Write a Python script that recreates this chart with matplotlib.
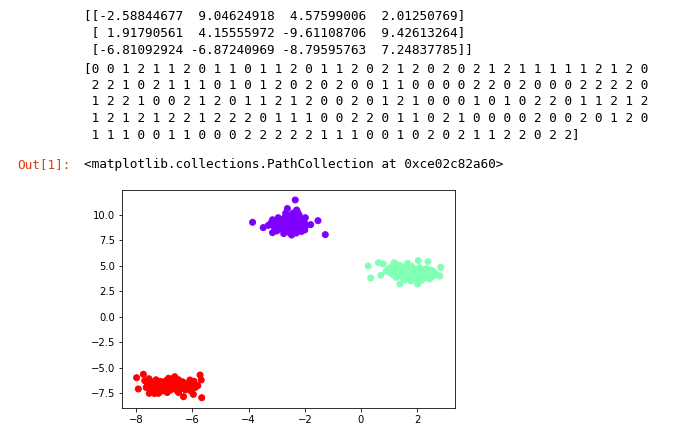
import matplotlib
matplotlib.use("Agg")
import matplotlib.pyplot as plt
import numpy as np

# ---- data ----
centers = [
    [-2.58844677, 9.04624918, 4.57599006, 2.01250769],
    [1.91790561, 4.15555972, -9.61108706, 9.42613264],
    [-6.81092924, -6.87240969, -8.79595763, 7.24837785],
]

labels = [
    0,0,1,2,1,1,2,0,1,1,0,1,1,2,0,1,1,2,0,2,1,2,0,2,0,2,1,2,1,1,1,1,1,2,1,2,0,
    2,2,1,0,2,1,1,1,0,1,0,1,2,0,2,0,2,0,0,1,1,0,0,0,0,2,2,0,2,0,0,0,2,2,2,2,0,
    1,2,2,1,0,0,2,1,2,0,1,1,2,1,2,0,0,2,0,1,2,1,0,0,0,1,0,1,0,2,2,0,1,1,2,1,2,
    1,2,1,2,1,2,2,1,2,2,2,0,1,1,1,0,0,2,2,0,1,1,0,2,1,0,0,0,0,2,0,0,2,0,1,2,0,
    1,1,1,0,0,1,1,0,0,0,2,2,2,2,2,1,1,1,0,0,1,0,2,0,2,1,1,2,2,0,2,2,
]

purple_x = [-2.34, -2.62, -2.29, -3.86, -1.53, -1.79, -1.27, -3.15, -2.47, -3.48,
            -2.17, -3.30, -3.20, -3.10, -3.05, -2.95, -2.90, -2.85, -2.80, -2.78,
            -2.72, -2.70, -2.65, -2.60, -2.58, -2.55, -2.52, -2.50, -2.48, -2.45,
            -2.42, -2.40, -2.38, -2.35, -2.32, -2.30, -2.28, -2.25, -2.22, -2.20,
            -2.18, -2.15, -2.12, -2.10, -2.08, -2.05, -2.02, -2.00, -1.98, -2.95,
            -3.00, -2.75, -2.62, -2.85, -3.15, -2.42, -1.95, -2.55, -2.68, -2.25]
purple_y = [11.44, 10.60, 10.46, 9.25, 9.41, 9.02, 8.04, 8.24, 8.00, 8.73,
            8.56, 8.95, 9.20, 8.85, 9.35, 9.05, 8.60, 9.50, 9.20, 8.85,
            9.70, 8.45, 9.35, 9.05, 8.70, 9.90, 9.55, 9.15, 8.40, 8.85,
            9.40, 9.75, 9.00, 8.60, 9.25, 8.20, 9.60, 8.90, 9.10, 9.95,
            8.70, 9.35, 8.35, 9.55, 9.00, 8.75, 9.25, 8.50, 9.70, 9.70,
            8.40, 8.15, 9.95, 9.00, 9.50, 10.15, 8.95, 8.25, 10.15, 10.20]

green_x = [0.26, 0.62, 0.35, 0.79, 0.71, 1.18, 1.39, 1.66, 2.04, 2.39,
           2.84, 2.81, 2.02, 2.54, 1.00, 1.05, 1.10, 1.15, 1.20, 1.25,
           1.30, 1.35, 1.40, 1.45, 1.50, 1.52, 1.55, 1.60, 1.62, 1.65,
           1.70, 1.72, 1.75, 1.78, 1.80, 1.82, 1.85, 1.88, 1.90, 1.92,
           1.95, 1.98, 2.00, 2.05, 2.08, 2.10, 2.15, 2.18, 2.20, 2.25,
           2.30, 2.32, 2.38, 2.45, 2.50, 2.55, 2.60, 0.90, 1.28, 2.70]
green_y = [4.97, 5.29, 3.79, 5.16, 4.05, 5.29, 3.20, 5.23, 5.49, 5.39,
           4.84, 3.98, 3.20, 4.25, 4.70, 4.30, 4.90, 4.10, 4.55, 3.85,
           4.75, 4.35, 5.00, 3.95, 4.60, 4.20, 3.60, 4.85, 4.40, 4.05,
           3.75, 4.65, 4.25, 3.50, 4.95, 4.45, 4.10, 3.85, 4.70, 4.30,
           3.65, 4.55, 4.15, 3.90, 4.80, 4.40, 3.55, 4.60, 4.05, 4.35,
           3.80, 4.70, 4.20, 3.70, 4.55, 3.95, 4.40, 4.45, 5.10, 4.10]

red_x = [-7.99, -7.75, -7.93, -5.73, -5.69, -5.67, -6.32, -5.97, -6.63, -6.09,
         -5.81, -7.54, -7.21, -7.70, -7.60, -7.55, -7.50, -7.45, -7.40, -7.35,
         -7.30, -7.28, -7.25, -7.20, -7.15, -7.10, -7.08, -7.05, -7.00, -6.95,
         -6.92, -6.90, -6.85, -6.80, -6.78, -6.75, -6.70, -6.65, -6.60, -6.55,
         -6.52, -6.50, -6.45, -6.40, -6.35, -6.30, -6.25, -6.20, -6.15, -6.10,
         -6.05, -6.00, -5.90, -7.65, -7.35, -6.85, -6.50, -7.00, -6.65, -5.95]
red_y = [-6.00, -5.66, -7.10, -5.73, -6.22, -7.96, -7.86, -7.63, -5.90, -6.22,
         -6.78, -7.53, -7.53, -6.30, -6.70, -6.10, -6.95, -6.45, -7.25, -6.80,
         -6.20, -7.40, -6.60, -7.05, -6.35, -6.85, -7.30, -6.50, -7.10, -6.70,
         -6.25, -7.45, -6.95, -6.45, -7.20, -6.75, -6.30, -7.00, -6.55, -7.25,
         -6.85, -6.20, -6.65, -7.05, -6.40, -6.90, -7.20, -6.60, -7.00, -6.80,
         -7.30, -6.50, -6.95, -6.95, -7.55, -6.05, -7.45, -6.40, -6.00, -6.35]

xticks = [-8, -6, -4, -2, 0, 2]
yticks = [10.0, 7.5, 5.0, 2.5, 0.0, -2.5, -5.0, -7.5]
out_prompt = "Out[1]:"
out_repr = "<matplotlib.collections.PathCollection at 0xce02c82a60>"

# ---- build sample array in label order ----
cluster_pts = {0: list(zip(purple_x, purple_y)),
               1: list(zip(green_x, green_y)),
               2: list(zip(red_x, red_y))}
counters = {0: 0, 1: 0, 2: 0}
X = []
for lab in labels:
    X.append(cluster_pts[lab][counters[lab]])
    counters[lab] += 1
X = np.array(X)
y = np.array(labels)

W, H = 689, 442
fig = plt.figure(figsize=(W / 100, H / 100), dpi=100)
fig.patch.set_facecolor("white")

mono = "DejaVu Sans Mono"
fs_mono = 9.2

def px(x, yy):
    return x / W, 1 - yy / H

# printed centers
center_lines = []
for i, row in enumerate(centers):
    body = " ".join(f"{v:11.8f}" for v in row)
    pre = "[[" if i == 0 else " ["
    post = "]]" if i == len(centers) - 1 else "]"
    center_lines.append(pre + body + post)

per_line = 37
label_lines = []
for i in range(0, len(labels), per_line):
    chunk = " ".join(str(v) for v in labels[i:i + per_line])
    pre = "[" if i == 0 else " "
    post = "]" if i + per_line >= len(labels) else ""
    label_lines.append(pre + chunk + post)

x0 = 83.5
for i, line in enumerate(center_lines):
    fig.text(*px(x0, 14.7 + 16.67 * i + 4.7), line, family=mono, fontsize=fs_mono,
             va="baseline", ha="left", color="black")
for i, line in enumerate(label_lines):
    fig.text(*px(x0, 67.3 + 16.6 * i + 4.7), line, family=mono, fontsize=fs_mono,
             va="baseline", ha="left", color="black")

fig.text(*px(17.5, 163.3 + 4.7), out_prompt, family=mono, fontsize=fs_mono,
         va="baseline", ha="left", color="#D84315")
fig.text(*px(x0, 163.3 + 4.7), out_repr, family=mono, fontsize=fs_mono,
         va="baseline", ha="left", color="black")

# ---- scatter axes ----
left, right, top, bottom = 122.3, 455.0, 190.3, 407.7
ax = fig.add_axes([left / W, 1 - bottom / H, (right - left) / W, (bottom - top) / H])
ax.scatter(X[:, 0], X[:, 1], c=y, cmap="rainbow", s=18.7, linewidths=0.72)
ax.set_xlim(-8.5, 3.35)
ax.set_ylim(-8.94, 12.39)
ax.set_xticks(xticks)
ax.set_yticks(yticks)
ax.set_xticklabels([f"{t:d}".replace("-", "\u2212") for t in xticks])
ax.set_yticklabels([f"{t:.1f}".replace("-", "\u2212") for t in yticks])
ax.tick_params(labelsize=7.2, length=2.52, width=0.576, pad=2.52, colors="black")
for sp in ax.spines.values():
    sp.set_linewidth(0.576)

fig.savefig("out.png", dpi=100)
